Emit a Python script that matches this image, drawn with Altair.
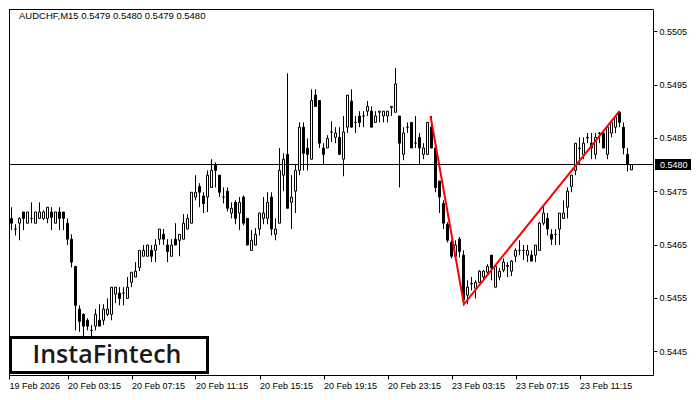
import json
import altair as alt
import pandas as pd

# ---------------- data ----------------
candle_idx = list(range(158))
opens = [0.54711, 0.54699, 0.54699, 0.54679, 0.54690, 0.54711, 0.54690, 0.54699, 0.54690, 0.54699,
         0.54699, 0.54699, 0.54711, 0.54690, 0.54711, 0.54711, 0.54690, 0.54660, 0.54609, 0.54529,
         0.54519, 0.54508, 0.54489, 0.54497, 0.54508, 0.54508, 0.54519, 0.54519, 0.54557, 0.54559,
         0.54559, 0.54549, 0.54579, 0.54589, 0.54607, 0.54628, 0.54628, 0.54639, 0.54639, 0.54660,
         0.54669, 0.54649, 0.54628, 0.54660, 0.54658, 0.54660, 0.54679, 0.54690, 0.54739, 0.54759,
         0.54741, 0.54739, 0.54757, 0.54800, 0.54780, 0.54739, 0.54750, 0.54709, 0.54729, 0.54709,
         0.54739, 0.54699, 0.54639, 0.54649, 0.54679, 0.54699, 0.54699, 0.54739, 0.54669, 0.54690,
         0.54780, 0.54819, 0.54729, 0.54750, 0.54789, 0.54870, 0.54831, 0.54810, 0.54930, 0.54920,
         0.54831, 0.54831, 0.54861, 0.54851, 0.54851, 0.54810, 0.54870, 0.54919, 0.54879, 0.54891,
         0.54891, 0.54900, 0.54900, 0.54879, 0.54898, 0.54891, 0.54891, 0.54907, 0.54898, 0.54891,
         0.54819, 0.54870, 0.54879, 0.54840, 0.54851, 0.54819, 0.54819, 0.54870, 0.54831, 0.54769,
         0.54727, 0.54688, 0.54654, 0.54628, 0.54660, 0.54630, 0.54555, 0.54576, 0.54568, 0.54579,
         0.54589, 0.54598, 0.54630, 0.54570, 0.54589, 0.54602, 0.54609, 0.54600, 0.54628, 0.54639,
         0.54639, 0.54630, 0.54630, 0.54630, 0.54639, 0.54690, 0.54699, 0.54669, 0.54669, 0.54679,
         0.54699, 0.54720, 0.54759, 0.54789, 0.54831, 0.54819, 0.54851, 0.54840, 0.54819, 0.54859,
         0.54859, 0.54819, 0.54859, 0.54870, 0.54898, 0.54870, 0.54819, 0.54790]
highs = [0.54720, 0.54711, 0.54720, 0.54688, 0.54701, 0.54711, 0.54711, 0.54729, 0.54711, 0.54729,
         0.54714, 0.54720, 0.54720, 0.54711, 0.54720, 0.54711, 0.54699, 0.54669, 0.54609, 0.54536,
         0.54521, 0.54512, 0.54499, 0.54529, 0.54538, 0.54538, 0.54549, 0.54570, 0.54570, 0.54570,
         0.54570, 0.54589, 0.54598, 0.54617, 0.54639, 0.54649, 0.54649, 0.54649, 0.54660, 0.54679,
         0.54679, 0.54660, 0.54660, 0.54690, 0.54669, 0.54707, 0.54707, 0.54748, 0.54780, 0.54765,
         0.54748, 0.54789, 0.54810, 0.54804, 0.54780, 0.54757, 0.54757, 0.54729, 0.54733, 0.54739,
         0.54742, 0.54699, 0.54677, 0.54681, 0.54709, 0.54739, 0.54748, 0.54748, 0.54699, 0.54831,
         0.54821, 0.54971, 0.54780, 0.54800, 0.54879, 0.54879, 0.54849, 0.54941, 0.54941, 0.54920,
         0.54840, 0.54855, 0.54881, 0.54870, 0.54870, 0.54891, 0.54930, 0.54941, 0.54891, 0.54900,
         0.54900, 0.54919, 0.54909, 0.54900, 0.54900, 0.54900, 0.54900, 0.54909, 0.54981, 0.54891,
         0.54870, 0.54879, 0.54879, 0.54891, 0.54859, 0.54840, 0.54879, 0.54891, 0.54831, 0.54769,
         0.54733, 0.54692, 0.54658, 0.54658, 0.54664, 0.54639, 0.54583, 0.54589, 0.54583, 0.54602,
         0.54602, 0.54613, 0.54630, 0.54613, 0.54606, 0.54624, 0.54617, 0.54621, 0.54643, 0.54658,
         0.54649, 0.54649, 0.54639, 0.54649, 0.54692, 0.54720, 0.54709, 0.54679, 0.54679, 0.54709,
         0.54733, 0.54757, 0.54780, 0.54840, 0.54851, 0.54851, 0.54859, 0.54859, 0.54859, 0.54861,
         0.54862, 0.54874, 0.54883, 0.54892, 0.54900, 0.54879, 0.54831, 0.54800]
lows = [0.54696, 0.54681, 0.54677, 0.54667, 0.54658, 0.54677, 0.54690, 0.54690, 0.54690, 0.54699,
        0.54696, 0.54690, 0.54677, 0.54690, 0.54677, 0.54677, 0.54649, 0.54607, 0.54489, 0.54486,
        0.54476, 0.54489, 0.54471, 0.54489, 0.54497, 0.54499, 0.54516, 0.54508, 0.54540, 0.54536,
        0.54536, 0.54549, 0.54570, 0.54589, 0.54600, 0.54628, 0.54628, 0.54617, 0.54617, 0.54649,
        0.54649, 0.54617, 0.54628, 0.54649, 0.54628, 0.54660, 0.54679, 0.54690, 0.54733, 0.54720,
        0.54709, 0.54711, 0.54757, 0.54757, 0.54739, 0.54727, 0.54712, 0.54699, 0.54688, 0.54677,
        0.54686, 0.54649, 0.54639, 0.54649, 0.54667, 0.54688, 0.54688, 0.54667, 0.54658, 0.54690,
        0.54750, 0.54718, 0.54679, 0.54709, 0.54780, 0.54789, 0.54789, 0.54810, 0.54909, 0.54831,
        0.54800, 0.54831, 0.54842, 0.54840, 0.54819, 0.54778, 0.54859, 0.54870, 0.54859, 0.54870,
        0.54870, 0.54891, 0.54870, 0.54879, 0.54879, 0.54879, 0.54879, 0.54891, 0.54898, 0.54757,
        0.54808, 0.54859, 0.54831, 0.54831, 0.54799, 0.54810, 0.54819, 0.54831, 0.54748, 0.54709,
        0.54679, 0.54654, 0.54624, 0.54624, 0.54626, 0.54540, 0.54538, 0.54564, 0.54549, 0.54577,
        0.54583, 0.54592, 0.54583, 0.54570, 0.54583, 0.54598, 0.54589, 0.54591, 0.54617, 0.54630,
        0.54621, 0.54617, 0.54619, 0.54617, 0.54639, 0.54686, 0.54667, 0.54649, 0.54649, 0.54649,
        0.54699, 0.54699, 0.54748, 0.54780, 0.54799, 0.54810, 0.54840, 0.54810, 0.54810, 0.54840,
        0.54831, 0.54810, 0.54851, 0.54859, 0.54870, 0.54819, 0.54787, 0.54790]
closes = [0.54699, 0.54690, 0.54690, 0.54679, 0.54699, 0.54699, 0.54711, 0.54699, 0.54711, 0.54711,
          0.54711, 0.54720, 0.54701, 0.54711, 0.54699, 0.54699, 0.54660, 0.54617, 0.54536, 0.54506,
          0.54497, 0.54497, 0.54489, 0.54519, 0.54497, 0.54529, 0.54529, 0.54570, 0.54570, 0.54549,
          0.54559, 0.54570, 0.54598, 0.54600, 0.54639, 0.54639, 0.54649, 0.54628, 0.54649, 0.54679,
          0.54660, 0.54637, 0.54649, 0.54649, 0.54669, 0.54690, 0.54699, 0.54748, 0.54748, 0.54748,
          0.54727, 0.54780, 0.54789, 0.54789, 0.54748, 0.54739, 0.54718, 0.54718, 0.54699, 0.54729,
          0.54690, 0.54649, 0.54658, 0.54669, 0.54709, 0.54709, 0.54729, 0.54679, 0.54679, 0.54789,
          0.54810, 0.54718, 0.54739, 0.54789, 0.54870, 0.54821, 0.54819, 0.54920, 0.54909, 0.54840,
          0.54819, 0.54849, 0.54861, 0.54859, 0.54819, 0.54861, 0.54930, 0.54870, 0.54879, 0.54879,
          0.54891, 0.54909, 0.54870, 0.54891, 0.54900, 0.54900, 0.54900, 0.54909, 0.54951, 0.54840,
          0.54859, 0.54870, 0.54831, 0.54840, 0.54831, 0.54831, 0.54879, 0.54831, 0.54757, 0.54739,
          0.54690, 0.54658, 0.54628, 0.54649, 0.54637, 0.54546, 0.54570, 0.54577, 0.54579, 0.54600,
          0.54600, 0.54609, 0.54606, 0.54609, 0.54600, 0.54617, 0.54611, 0.54619, 0.54639, 0.54639,
          0.54639, 0.54639, 0.54619, 0.54649, 0.54690, 0.54709, 0.54679, 0.54660, 0.54669, 0.54709,
          0.54709, 0.54750, 0.54780, 0.54840, 0.54830, 0.54840, 0.54850, 0.54831, 0.54851, 0.54858,
          0.54831, 0.54870, 0.54879, 0.54889, 0.54879, 0.54831, 0.54800, 0.54800]

tick_idx = [0, 16, 32, 48, 64, 80, 96, 112, 128, 144]
tick_labels = ["19 Feb 2026", "20 Feb 03:15", "20 Feb 07:15", "20 Feb 11:15", "20 Feb 15:15",
               "20 Feb 19:15", "20 Feb 23:15", "23 Feb 03:15", "23 Feb 07:15", "23 Feb 11:15"]
price_ticks = [0.5445, 0.5455, 0.5465, 0.5475, 0.5485, 0.5495, 0.5505]
current_price = 0.5480
pattern_idx = [106.75, 115.1, 154.0]
pattern_price = [0.54891, 0.54538, 0.54900]
header_text = "AUDCHF,M15  0.5479 0.5480 0.5479 0.5480"
logo_text = "InstaFintech"

# ---------------- layout ----------------
W, H = 644, 366
X0 = 1.375
X1 = X0 + W / 4.0
Y_TOP = 0.550916
Y_BOT = Y_TOP - H * 0.00001875
FONT = "Liberation Sans"

df = pd.DataFrame({"idx": candle_idx, "open": opens, "high": highs, "low": lows, "close": closes})
df["dir"] = ["down" if c < o else "up" for o, c in zip(opens, closes)]

xscale = alt.Scale(domain=[X0, X1], nice=False, zero=False, padding=0)
yscale = alt.Scale(domain=[Y_BOT, Y_TOP], nice=False, zero=False, padding=0)

label_expr = json.dumps(tick_labels) + "[round(datum.value / 16)]"
xaxis = alt.Axis(values=[max(v, X0) for v in tick_idx], labelExpr=label_expr, tickSize=4,
                 labelAlign="left", labelBaseline="top", labelPadding=2, labelFlush=False,
                 labelOverlap=False, grid=False, title=None, labelFont=FONT, labelFontSize=9,
                 labelColor="black", tickColor="black", domainColor="black")
yaxis = alt.Axis(orient="right", values=price_ticks, format=".4f", tickSize=4, labelPadding=2,
                 grid=False, title=None, labelFont=FONT, labelFontSize=9, labelColor="black",
                 tickColor="black", domainColor="black")

X = lambda f: alt.X(f, scale=xscale, axis=xaxis)
Y = lambda f: alt.Y(f, scale=yscale, axis=yaxis)

base = alt.Chart(df)
wicks = base.mark_rule(color="black", strokeWidth=1, clip=True).encode(
    x=X("idx:Q"), y=Y("low:Q"), y2="high:Q")
bodies = base.mark_bar(width=2, stroke="black", strokeWidth=1, clip=True).encode(
    x=X("idx:Q"), y=Y("open:Q"), y2="close:Q",
    fill=alt.Fill("dir:N", scale=alt.Scale(domain=["up", "down"], range=["white", "black"]), legend=None))

pdf = pd.DataFrame({"p": [current_price], "lbl": [f"{current_price:.4f}"]})
price_line = alt.Chart(pdf).mark_rule(color="black", strokeWidth=1).encode(y=Y("p:Q"))
price_box = alt.Chart(pdf).mark_tick(color="black", thickness=11, size=36, opacity=1).encode(
    y=Y("p:Q"), x=alt.value(W + 20))
price_lbl = alt.Chart(pdf).mark_text(align="left", baseline="middle", color="white", font=FONT,
                                     fontSize=9).encode(y=Y("p:Q"), x=alt.value(W + 7), text="lbl:N")

pat = pd.DataFrame({"idx": pattern_idx, "p": pattern_price})
pattern = alt.Chart(pat).mark_line(color="#ff0000", strokeWidth=2, clip=True).encode(
    x=X("idx:Q"), y=Y("p:Q"))

one = pd.DataFrame({"h": [header_text], "l": [logo_text]})
frame_top = alt.Chart(one).mark_rule(color="black", strokeWidth=1).encode(y=alt.value(0.5))
frame_left = alt.Chart(one).mark_rule(color="black", strokeWidth=1).encode(x=alt.value(0.5))
header = alt.Chart(one).mark_text(align="left", baseline="alphabetic", font=FONT, fontSize=9.5,
                                  color="black").encode(x=alt.value(10), y=alt.value(10), text="h:N")
logo_box = alt.Chart(one).mark_rect(fill="white", stroke="black", strokeWidth=3).encode(
    x=alt.value(1.5), x2=alt.value(198.5), y=alt.value(H - 37.5), y2=alt.value(H - 2.5))
logo = alt.Chart(one).mark_text(align="center", baseline="alphabetic", font="Open Sans", fontSize=25,
                                fontWeight=600, color="#1a1a1a").encode(
    x=alt.value(98), y=alt.value(H - 12), text="l:N")

chart = alt.layer(price_line, wicks, bodies, pattern, frame_top, frame_left, logo_box, logo, header,
                  price_box, price_lbl).properties(
    width=W, height=H, padding=0, background="white"
).configure_view(stroke=None)

chart.save("out.html", embed_options={"renderer": "svg", "actions": False})
